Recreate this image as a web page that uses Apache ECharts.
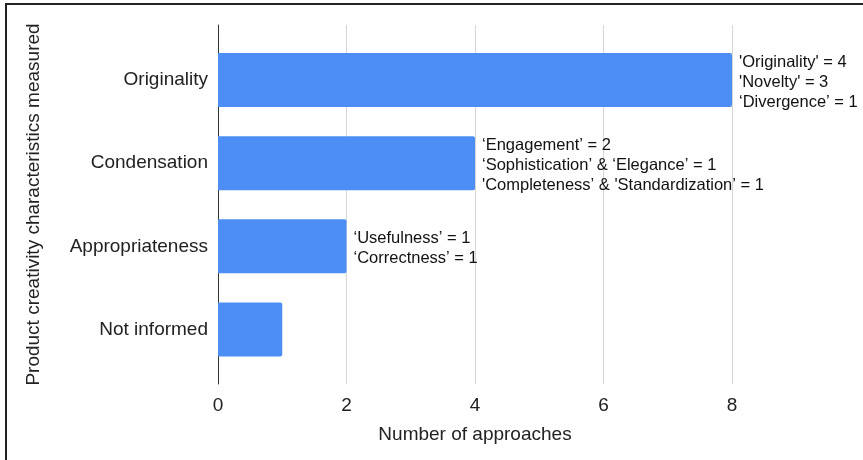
<!DOCTYPE html>
<html>
<head>
<meta charset="utf-8">
<script src="https://cdn.jsdelivr.net/npm/echarts@6/dist/echarts.min.js"></script>
<style>
html,body{margin:0;padding:0;background:#fff;}
#wrap{position:relative;width:863px;height:460px;overflow:hidden;}
#chart{position:absolute;left:0;top:0;width:863px;height:460px;}
#frame{position:absolute;left:5px;top:3px;width:900px;height:500px;border-left:2px solid #222;border-top:2px solid #222;pointer-events:none;}
</style>
</head>
<body>
<div id="wrap"><div id="chart"></div><div id="frame"></div></div>
<script>
const categories = ['Originality', 'Condensation', 'Appropriateness', 'Not informed'];
const values = [8, 4, 2, 1];
const annotations = [
  ["'Originality' = 4", "'Novelty' = 3", "\u2018Divergence\u2019 = 1"],
  ["\u2018Engagement\u2019 = 2", "\u2018Sophistication\u2019 & \u2018Elegance\u2019 = 1", "'Completeness\u2019 & 'Standardization\u2019 = 1"],
  ["\u2018Usefulness\u2019 = 1", "\u2018Correctness\u2019 = 1"],
  []
];
const xTicks = { min: 0, max: 8, interval: 2 };
const xTitle = 'Number of approaches';
const yTitle = 'Product creativity characteristics measured';

const FONT = '"Liberation Sans", Arial, sans-serif';
const chart = echarts.init(document.getElementById('chart'), null, { renderer: 'canvas' });

const option = {
  animation: false,
  textStyle: { fontFamily: FONT },
  grid: [
    { left: 218, right: 131, top: 25, bottom: 76, containLabel: false },
    { left: 218, right: 131, top: 38.5, bottom: 89, containLabel: false }
  ],
  xAxis: [
    {
      gridIndex: 0, type: 'value', min: xTicks.min, max: xTicks.max, interval: xTicks.interval,
      name: xTitle, nameLocation: 'middle', nameGap: 41,
      nameTextStyle: { fontSize: 19, color: '#222', fontFamily: FONT },
      axisLine: { show: false }, axisTick: { show: false },
      axisLabel: { fontSize: 19, color: '#222', margin: 12, fontFamily: FONT },
      splitLine: { show: true, lineStyle: { color: '#d6d6d6', width: 1 } }
    },
    {
      gridIndex: 1, type: 'value', min: xTicks.min, max: xTicks.max, interval: xTicks.interval,
      show: false, splitLine: { show: false }
    }
  ],
  yAxis: [
    {
      gridIndex: 0, type: 'value', min: 0, max: 1,
      name: yTitle, nameLocation: 'middle', nameGap: 175, nameRotate: 90,
      nameTextStyle: { fontSize: 19, color: '#222', fontFamily: FONT },
      axisLine: { show: true, lineStyle: { color: '#333', width: 1 } },
      axisTick: { show: false }, axisLabel: { show: false }, splitLine: { show: false }
    },
    {
      gridIndex: 1, type: 'category', inverse: true, data: categories,
      axisLine: { show: false }, axisTick: { show: false },
      axisLabel: { fontSize: 19, color: '#222', margin: 10, fontFamily: FONT },
      splitLine: { show: false }
    }
  ],
  series: [{
    type: 'bar',
    xAxisIndex: 1, yAxisIndex: 1,
    data: values,
    barWidth: 54,
    itemStyle: { color: '#4d8ef5', borderRadius: [0, 2, 2, 0] },
    label: {
      show: true, position: 'right', distance: 7, offset: [0, 2],
      fontSize: 16.5, lineHeight: 20, color: '#111', fontFamily: FONT,
      formatter: p => annotations[p.dataIndex].join('\n')
    }
  }]
};
chart.setOption(option);
</script>
</body>
</html>
